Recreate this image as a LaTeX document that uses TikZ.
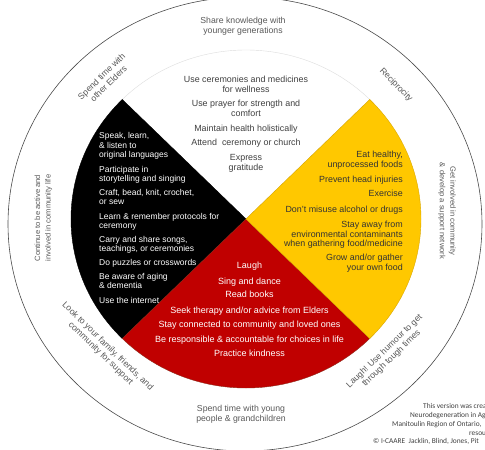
\documentclass[tikz,border=0pt]{standalone}
\usepackage{fontspec}
\setmainfont{Liberation Sans}
\newfontfamily\cornerfont{Carlito}
\definecolor{wyellow}{HTML}{FFC800}
\definecolor{wyellowedge}{HTML}{D9A800}
\definecolor{wred}{HTML}{C00000}
\definecolor{wrededge}{HTML}{8E2A1A}
\definecolor{ringgray}{HTML}{595959}
\definecolor{txtdark}{HTML}{404040}
\definecolor{ytext}{HTML}{333333}
\definecolor{linegray}{HTML}{4A4A4A}
\definecolor{whiteedge}{HTML}{DDDDDD}
\begin{document}
\begin{tikzpicture}[x=1pt,y=-1pt,
  every node/.style={inner sep=0pt},
  ringtxt/.style={font=\fontsize{8.7}{10}\selectfont, text=ringgray, align=center},
  sidetxt/.style={font=\fontsize{7.6}{10.5}\selectfont, text=ringgray, align=center},
  wtxt/.style={font=\fontsize{8.9}{10}\selectfont, text=txtdark, anchor=base},
  btxt/.style={font=\fontsize{8.5}{9}\selectfont, text=white, anchor=base west},
  ytxt/.style={font=\fontsize{8.9}{10}\selectfont, text=ytext, anchor=base east},
  rtxt/.style={font=\fontsize{9}{10}\selectfont, text=white, anchor=base},
  ctxt/.style={font=\cornerfont\fontsize{7.4}{8}\selectfont, text=txtdark, anchor=base west},
  sector/.style={line width=0.4pt}
]
\useasboundingbox (0,0) rectangle (485,450);
\clip (0,0) rectangle (485,450);
\fill[white] (0,0) rectangle (485,450);

% outer ring
\coordinate (O) at (245,224);
\draw[linegray, line width=0.6pt] (O) ellipse [x radius=237pt, y radius=227pt];

% medicine wheel
\coordinate (C) at (246,219);
\filldraw[sector, fill=white, draw=whiteedge] (C) -- ++(45:175pt and 169pt)
  arc[start angle=45, end angle=135, x radius=175pt, y radius=169pt] -- cycle;
\filldraw[sector, fill=black, draw=black] (C) -- ++(135:175pt and 169pt)
  arc[start angle=135, end angle=225, x radius=175pt, y radius=169pt] -- cycle;
\filldraw[sector, fill=wred, draw=wrededge] (C) -- ++(225:175pt and 169pt)
  arc[start angle=225, end angle=315, x radius=175pt, y radius=169pt] -- cycle;
\filldraw[sector, fill=wyellow, draw=wyellowedge] (C) -- ++(-45:175pt and 169pt)
  arc[start angle=-45, end angle=45, x radius=175pt, y radius=169pt] -- cycle;

% outer ring texts
\node[ringtxt] (share) at (243,26) {Share knowledge with\\younger generations};
\node[ringtxt, rotate=44] (elders) at (105,80) {Spend time with\\other Elders};
\node[ringtxt, rotate=-46] (recip) at (396,85) {Reciprocity};
\node[sidetxt, rotate=90] (active) at (43.5,218) {Continue to be active and\\involved in community life};
\node[sidetxt, rotate=-90] (involved) at (447,211) {Get involved in community\\\& develop a support network};
\node[ringtxt, rotate=-44] (family) at (104,350) {Look to your family, friends, and\\community for support};
\node[ringtxt, rotate=44] (humour) at (388,355) {Laugh! Use humour to get\\through tough times};
\node[ringtxt] (young) at (241,414) {Spend time with young\\people \& grandchildren};

% white quadrant
\node[wtxt] (w1) at (246,82) {Use ceremonies and medicines};
\node[wtxt] (w2) at (246,92) {for wellness};
\node[wtxt] (w3) at (246,106) {Use prayer for strength and};
\node[wtxt] (w4) at (246,116) {comfort};
\node[wtxt] (w5) at (246,131) {Maintain health holistically};
\node[wtxt] (w6) at (246,145) {Attend\ \ ceremony or church};
\node[wtxt] (w7) at (246,160) {Express};
\node[wtxt] (w8) at (246,170) {gratitude};

% black quadrant
\node[btxt] (b1) at (99,138.7) {Speak, learn,};
\node[btxt] (b2) at (99,148) {\& listen to};
\node[btxt] (b3) at (99,157) {original languages};
\node[btxt] (b4) at (99,172) {Participate in};
\node[btxt] (b5) at (99,181.7) {storytelling and singing};
\node[btxt] (b6) at (99,195) {Craft, bead, knit, crochet,};
\node[btxt] (b7) at (99,204) {or sew};
\node[btxt] (b8) at (99,219.7) {Learn \& remember protocols for};
\node[btxt] (b9) at (99,228.7) {ceremony};
\node[btxt] (b10) at (99,242) {Carry and share songs,};
\node[btxt] (b11) at (99,251) {teachings, or ceremonies};
\node[btxt] (b12) at (99,265) {Do puzzles or crosswords};
\node[btxt] (b13) at (99,279.7) {Be aware of aging};
\node[btxt] (b14) at (99,288.7) {\& dementia};
\node[btxt] (b15) at (99,303) {Use the internet};

% yellow quadrant
\node[ytxt] (y1) at (403,157.3) {Eat healthy,};
\node[ytxt] (y2) at (403,167.3) {unprocessed foods};
\node[ytxt] (y3) at (403,182.7) {Prevent head injuries};
\node[ytxt] (y4) at (403,196.7) {Exercise};
\node[ytxt] (y5) at (403,212) {Don’t misuse alcohol or drugs};
\node[ytxt] (y6) at (403,227) {Stay away from};
\node[ytxt] (y7) at (403,237) {environmental contaminants};
\node[ytxt] (y8) at (403,246.3) {when gathering food/medicine};
\node[ytxt] (y9) at (403,260.7) {Grow and/or gather};
\node[ytxt] (y10) at (403,270.3) {your own food};

% red quadrant
\node[rtxt] (r1) at (249.5,268.7) {Laugh};
\node[rtxt] (r2) at (249.5,284) {Sing and dance};
\node[rtxt] (r3) at (249.5,297.7) {Read books};
\node[rtxt] (r4) at (249.5,313) {Seek therapy and/or advice from Elders};
\node[rtxt] (r5) at (249.5,327.3) {Stay connected to community and loved ones};
\node[rtxt] (r6) at (249.5,342) {Be responsible \& accountable for choices in life};
\node[rtxt] (r7) at (249.5,356.7) {Practice kindness};

% corner credit (cut off at the page edge)
\node[ctxt] (c1) at (423,408) {This version was crea};
\node[ctxt] (c2) at (410,417.5) {Neurodegeneration in Ag};
\node[ctxt] (c3) at (392,426.5) {Manitoulin Region of Ontario,};
\node[ctxt] (c4) at (469,435) {resoun};
\node[ctxt] (c5) at (373,443) {© I-CAARE\ \ Jacklin, Blind, Jones, Pit};
\end{tikzpicture}
\end{document}
